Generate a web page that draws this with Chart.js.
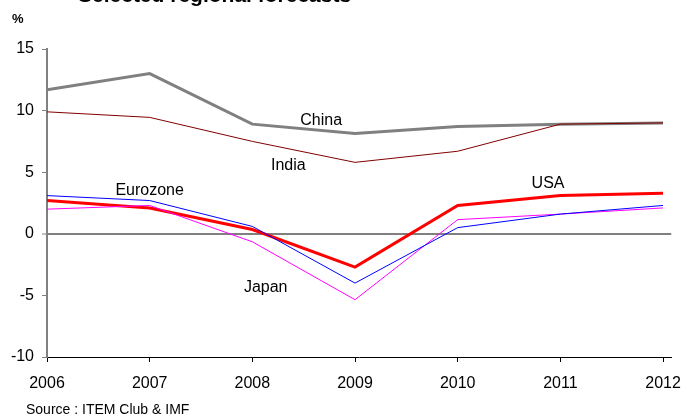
<!DOCTYPE html>
<html>
<head>
<meta charset="utf-8">
<script src="https://cdn.jsdelivr.net/npm/chart.js@4.4.1/dist/chart.umd.min.js"></script>
<style>
  html, body { margin: 0; padding: 0; background: #fff; }
  canvas { display: block; }
</style>
</head>
<body>
<canvas id="growthChart" width="693" height="417"></canvas>
<script>
const years = [2006, 2007, 2008, 2009, 2010, 2011, 2012];

// GDP growth, %
const china    = [11.7, 13.0, 8.9, 8.15, 8.7, 8.9, 9.0];
const india    = [9.9, 9.45, 7.5, 5.8, 6.7, 8.9, 9.0];
const usa      = [2.7, 2.1, 0.35, -2.7, 2.3, 3.1, 3.3];
const eurozone = [3.1, 2.7, 0.6, -4.0, 0.5, 1.6, 2.3];
const japan    = [2.0, 2.3, -0.65, -5.35, 1.15, 1.6, 2.1];

const yTicks = [-10, -5, 0, 5, 10, 15];

// series names written next to their lines: [text, year, value]
const seriesLabels = [
    ['China', 2008.67, 9.2],
    ['India', 2008.35, 5.5],
    ['Eurozone', 2007.0, 3.5],
    ['Japan', 2008.13, -4.35],
    ['USA', 2010.88, 4.1]
];

const chartTitle = 'Selected regional forecasts';
const unitLabel = '%';
const sourceNote = 'Source : ITEM Club & IMF';

function points(values) {
    return values.map((v, i) => ({ x: years[i], y: v }));
}

const textPlugin = {
    id: 'chartText',
    afterDraw(chart) {
        const ctx = chart.ctx;
        const xs = chart.scales.x;
        const ys = chart.scales.y;
        ctx.save();
        ctx.fillStyle = '#000';

        // title sits mostly above the top edge
        ctx.font = 'bold 21px "Liberation Sans", Arial, sans-serif';
        ctx.textAlign = 'left';
        ctx.textBaseline = 'alphabetic';
        ctx.fillText(chartTitle, 78, 1.5);

        ctx.font = 'bold 13px "Liberation Sans", Arial, sans-serif';
        ctx.fillText(unitLabel, 12, 23);

        ctx.font = '14px "Liberation Sans", Arial, sans-serif';
        ctx.fillText(sourceNote, 26, 414);

        ctx.font = '16px "Liberation Sans", Arial, sans-serif';
        ctx.textAlign = 'center';
        ctx.textBaseline = 'middle';
        seriesLabels.forEach(([txt, x, y]) => {
            ctx.fillText(txt, xs.getPixelForValue(x), ys.getPixelForValue(y));
        });
        ctx.restore();
    }
};

const ctx = document.getElementById('growthChart').getContext('2d');

new Chart(ctx, {
    type: 'line',
    data: {
        datasets: [
            { label: 'Eurozone', data: points(eurozone), borderColor: '#0000FF', borderWidth: 1 },
            { label: 'Japan', data: points(japan), borderColor: '#FF00FF', borderWidth: 1 },
            { label: 'India', data: points(india), borderColor: '#800000', borderWidth: 1 },
            { label: 'China', data: points(china), borderColor: '#808080', borderWidth: 3 },
            { label: 'USA', data: points(usa), borderColor: '#FF0000', borderWidth: 3 }
        ]
    },
    options: {
        responsive: false,
        animation: false,
        events: [],
        elements: {
            point: { radius: 0 },
            line: { tension: 0, fill: false, borderCapStyle: 'butt', borderJoinStyle: 'miter' }
        },
        layout: { padding: { top: 49, right: 13, left: 0, bottom: 0 } },
        plugins: {
            legend: { display: false },
            tooltip: { enabled: false },
            title: { display: false }
        },
        scales: {
            x: {
                type: 'linear',
                min: 2006,
                max: 2012.08,
                afterBuildTicks: (scale) => {
                    scale.ticks = years.map(v => ({ value: v }));
                },
                afterFit: (scale) => { scale.height = 60; },
                border: { color: '#000', width: 1 },
                grid: {
                    drawOnChartArea: false,
                    tickLength: 5,
                    tickColor: '#000',
                    tickWidth: 1
                },
                ticks: {
                    padding: 12,
                    maxRotation: 0,
                    autoSkip: false,
                    color: '#000',
                    font: { family: '"Liberation Sans", Arial, sans-serif', size: 16 },
                    callback: (v) => String(v)
                }
            },
            y: {
                min: -10,
                max: 15,
                afterBuildTicks: (scale) => {
                    scale.ticks = yTicks.map(v => ({ value: v }));
                },
                afterFit: (scale) => { scale.width = 47; },
                border: { color: '#808080', width: 2 },
                grid: {
                    drawOnChartArea: true,
                    color: (c) => (c.tick && c.tick.value === 0) ? '#808080' : 'rgba(0,0,0,0)',
                    lineWidth: (c) => (c.tick && c.tick.value === 0) ? 2 : 1,
                    tickLength: 5,
                    tickColor: '#808080',
                    tickWidth: 1
                },
                ticks: {
                    padding: 8,
                    color: '#000',
                    font: { family: '"Liberation Sans", Arial, sans-serif', size: 16 }
                }
            }
        }
    },
    plugins: [textPlugin]
});
</script>
</body>
</html>
